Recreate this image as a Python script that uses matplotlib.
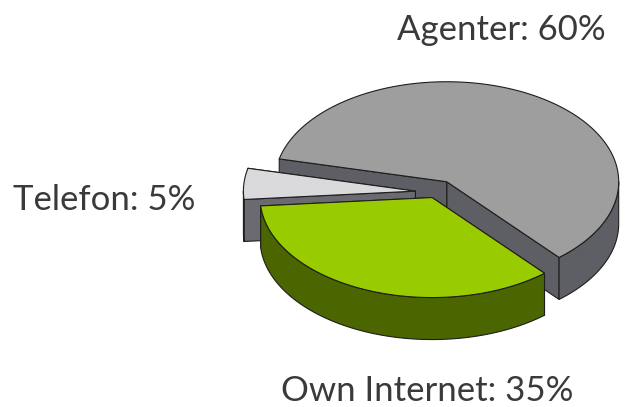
import numpy as np
import matplotlib.pyplot as plt
from matplotlib.patches import Polygon

# Data
labels = ['Agenter', 'Telefon', 'Own Internet']
shares = [60, 5, 35]
explode = [0.12, 0.12, 0.06]
top_colors = ['#9e9e9e', '#dadadd', '#99cc00']
side_colors = ['#5e5e65', '#6a6a70', '#4b6600']

# 3D pie geometry (pixels)
cx, cy = 436, 192
a, b = 172, 100
depth = 42
start = -49.2

fig = plt.figure(figsize=(6.25, 4.07), dpi=100)
ax = fig.add_axes([0, 0, 1, 1])
ax.set_xlim(0, 625)
ax.set_ylim(407, 0)
ax.axis('off')


def rim(px, py, ang, dz=0):
    r = np.radians(ang)
    return px + a * np.cos(r), py - b * np.sin(r) + dz


def face(pts, color):
    ax.add_patch(Polygon(pts, closed=True, facecolor=color,
                         edgecolor='#1e1e1e', linewidth=0.8, joinstyle='round'))


total = sum(shares)
angles = [start]
for s in shares:
    angles.append(angles[-1] + 360 * s / total)

for i in range(len(shares)):
    t0, t1 = angles[i], angles[i + 1]
    mid = np.radians((t0 + t1) / 2)
    px = cx + explode[i] * a * np.cos(mid)
    py = cy - explode[i] * b * np.sin(mid)

    # radial cut faces
    for t in (t0, t1):
        x, y = rim(px, py, t)
        face([(px, py), (x, y), (x, y + depth), (px, py + depth)], side_colors[i])

    # outer curved side, only the front half is visible
    vis = []
    for k in range(-1, 2):
        s0, s1 = max(t0, 180 + 360 * k), min(t1, 360 + 360 * k)
        if s1 > s0:
            vis.append((s0, s1))
    for s0, s1 in vis:
        tt = np.linspace(s0, s1, 80)
        top = [rim(px, py, t) for t in tt]
        bot = [rim(px, py, t, depth) for t in tt[::-1]]
        face(top + bot, side_colors[i])

    # top face
    tt = np.linspace(t0, t1, 200)
    face([(px, py)] + [rim(px, py, t) for t in tt], top_colors[i])

font = dict(family=['Lato', 'DejaVu Sans'], fontsize=25, color='#3a3a3a')
ax.text(501, 40, f'{labels[0]}: {shares[0]}%', ha='center', va='baseline', **font)
ax.text(104, 210, f'{labels[1]}: {shares[1]}%', ha='center', va='baseline', **font)
ax.text(427, 401, f'{labels[2]}: {shares[2]}%', ha='center', va='baseline', **font)

fig.savefig('out.png', dpi=100)
